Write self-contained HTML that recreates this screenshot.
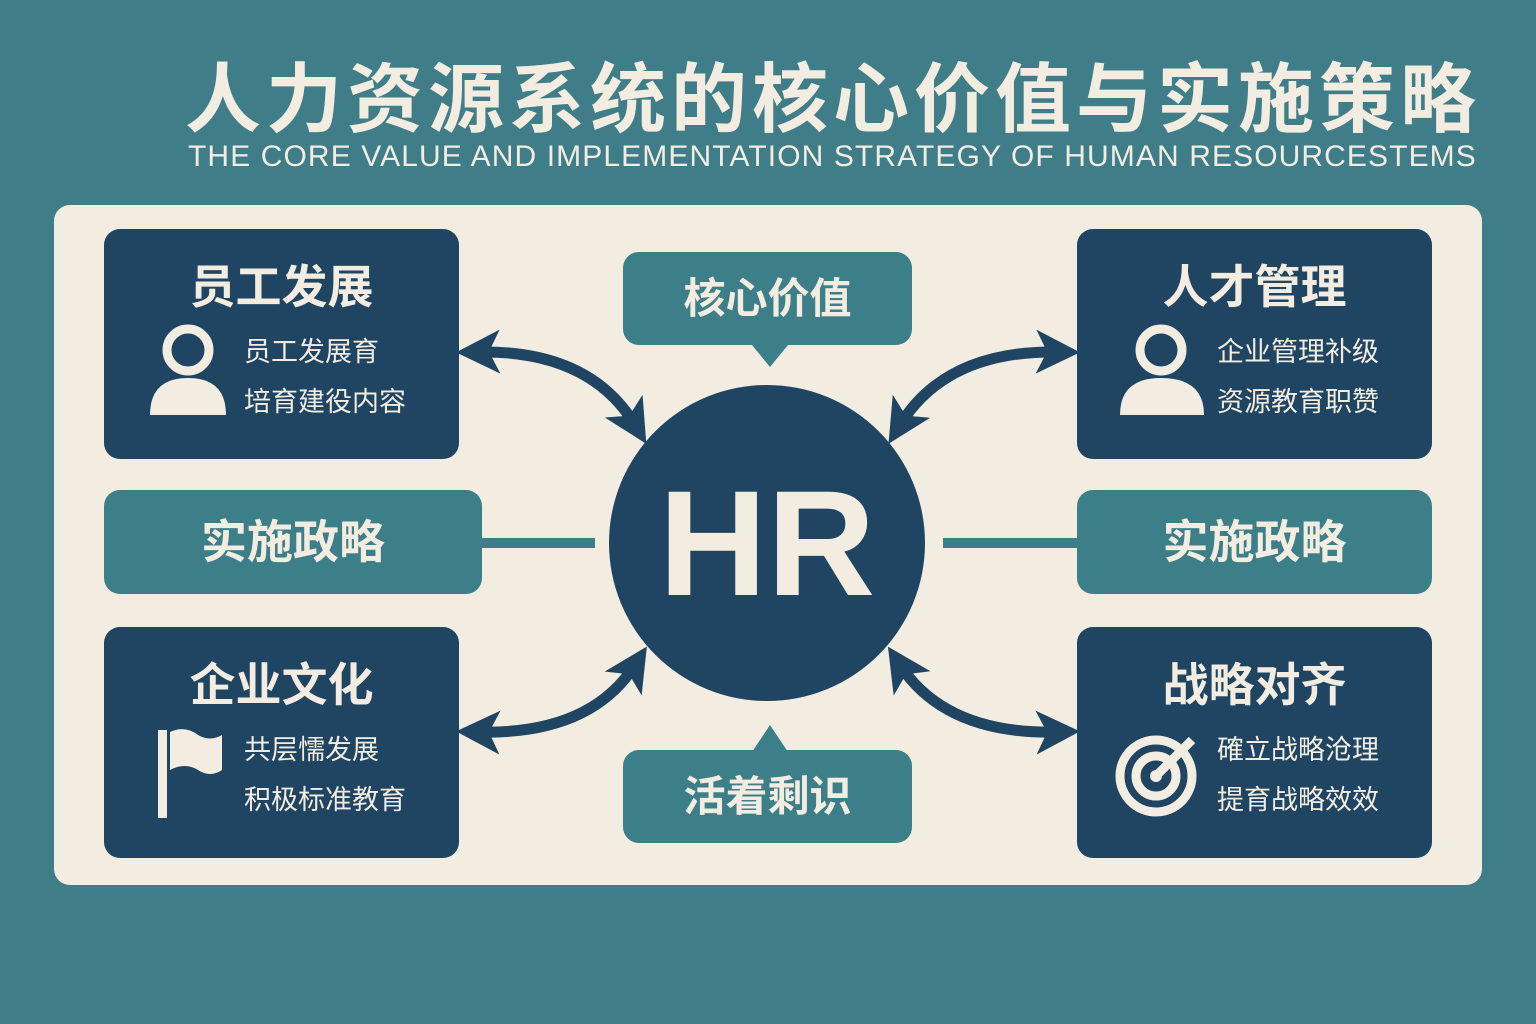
<!DOCTYPE html>
<html><head><meta charset="utf-8"><style>
body{margin:0;width:1536px;height:1024px;background:#3f7e88;overflow:hidden;font-family:"Liberation Sans","Noto Sans CJK SC",sans-serif;position:relative}
.t{position:absolute;color:#f3ede1;white-space:nowrap}
.panel{position:absolute;left:54px;top:205px;width:1428px;height:680px;background:#f3ede1;border-radius:16px}
.d{position:absolute;background:#1f4562;border-radius:16px;color:#f3ede1}
.l{position:absolute;background:#3c7f89;border-radius:16px;color:#f3ede1;text-align:center;font-weight:bold}
.h{position:absolute;width:100%;text-align:center;top:22px;font-size:46px;font-weight:bold}
.s{position:absolute;left:140px;font-size:27px;line-height:50px;top:98px}
</style></head><body>
<div class="t" style="left:185px;top:38px;font-size:76px;font-weight:bold;letter-spacing:5px">人力资源系统的核心价值与实施策略</div>
<div class="t" style="left:188px;top:140px;font-size:30px;letter-spacing:1.1px">THE CORE VALUE AND IMPLEMENTATION STRATEGY OF HUMAN RESOURCESTEMS</div>
<div class="panel"></div>
<svg style="position:absolute;left:0;top:0" width="1536" height="1024">
<defs><marker id="a" markerWidth="4" markerHeight="4" refX="2" refY="2" orient="auto-start-reverse" markerUnits="strokeWidth"><path d="M0,0L4,2L0,4L1,2Z" fill="#1f4562"/></marker></defs>
<g stroke="#1f4562" stroke-width="11" fill="none">
<path d="M478,352 Q590,350 635,425" marker-start="url(#a)" marker-end="url(#a)"/>
<path d="M1058,352 Q946,350 900,425" marker-start="url(#a)" marker-end="url(#a)"/>
<path d="M478,732 Q590,735 635,665" marker-start="url(#a)" marker-end="url(#a)"/>
<path d="M1058,732 Q946,735 900,665" marker-start="url(#a)" marker-end="url(#a)"/>
</g>
<g stroke="#3c7f89" stroke-width="10"><line x1="482" y1="543" x2="595" y2="543"/><line x1="943" y1="543" x2="1077" y2="543"/></g>
<circle cx="767" cy="543" r="158" fill="#1f4562"/>
<text x="767" y="595" text-anchor="middle" font-family="Liberation Sans" font-weight="bold" font-size="150" fill="#f3ede1">HR</text>
<path d="M752,345 L770,367 L788,345Z" fill="#3c7f89"/>
<path d="M752,752 L770,725 L788,752Z" fill="#3c7f89"/>
</svg>
<div class="d" style="left:104px;top:229px;width:355px;height:230px"><div class="h">员工发展</div><div class="s">员工发展育<br>培育建役内容</div></div>
<div class="d" style="left:1077px;top:229px;width:355px;height:230px"><div class="h">人才管理</div><div class="s">企业管理补级<br>资源教育职赞</div></div>
<div class="d" style="left:104px;top:627px;width:355px;height:231px"><div class="h">企业文化</div><div class="s">共层懦发展<br>积极标准教育</div></div>
<div class="d" style="left:1077px;top:627px;width:355px;height:231px"><div class="h">战略对齐</div><div class="s">確立战略沧理<br>提育战略效效</div></div>
<div class="l" style="left:104px;top:490px;width:378px;height:104px;line-height:104px;font-size:46px">实施政略</div>
<div class="l" style="left:1077px;top:490px;width:355px;height:104px;line-height:104px;font-size:46px">实施政略</div>
<div class="l" style="left:623px;top:252px;width:289px;height:93px;line-height:93px;font-size:42px">核心价值</div>
<div class="l" style="left:623px;top:750px;width:289px;height:93px;line-height:93px;font-size:42px">活着剩识</div>
<svg style="position:absolute;left:0;top:0;pointer-events:none" width="1536" height="1024">
<g fill="#f3ede1">
<circle cx="188" cy="350" r="21" fill="none" stroke="#f3ede1" stroke-width="9"/><path d="M150,415 Q150,378 188,378 Q226,378 226,415Z"/>
<circle cx="1161" cy="350" r="21" fill="none" stroke="#f3ede1" stroke-width="9"/><path d="M1120,415 Q1120,378 1161,378 Q1204,378 1204,415Z"/>
<rect x="158" y="730" width="9" height="88"/><path d="M170,732 Q185,725 198,735 Q210,742 222,735 L222,770 Q210,778 198,770 Q185,762 170,770Z"/>
</g>
<g fill="none" stroke="#f3ede1" stroke-width="9"><circle cx="1156" cy="776" r="36"/><circle cx="1156" cy="776" r="20"/><line x1="1156" y1="776" x2="1192" y2="740"/></g>
<circle cx="1156" cy="776" r="6" fill="#f3ede1"/>
</svg>
</body></html>
